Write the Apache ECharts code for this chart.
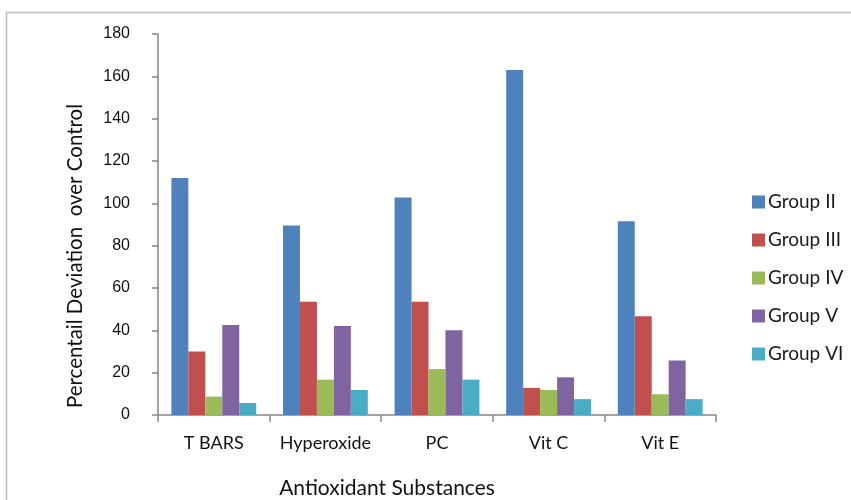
<!DOCTYPE html>
<html>
<head>
<meta charset="utf-8">
<script src="https://cdn.jsdelivr.net/npm/echarts@6/dist/echarts.min.js"></script>
<style>
  html, body { margin: 0; padding: 0; background: #fff; }
  #chart { width: 851px; height: 500px; }
</style>
</head>
<body>
<div id="chart"></div>
<script>
// Antioxidant substances measured per group (percent deviation over control)
const categories = ['T BARS', 'Hyperoxide', 'PC', 'Vit C', 'Vit E'];
const groupNames = ['Group II', 'Group III', 'Group IV', 'Group V', 'Group VI'];
const groupII  = [112, 89.5, 102.7, 163, 91.5];
const groupIII = [30, 53.5, 53.5, 12.8, 46.6];
const groupIV  = [8.7, 16.7, 21.7, 11.8, 9.8];
const groupV   = [42.5, 42, 40, 17.8, 25.8];
const groupVI  = [5.7, 11.8, 16.7, 7.5, 7.5];
const yTicks = [0, 20, 40, 60, 80, 100, 120, 140, 160, 180];

const colors = ['#4F81BD', '#C0504D', '#9BBB59', '#8064A2', '#4BACC6'];
const seriesData = [groupII, groupIII, groupIV, groupV, groupVI];
const axisColor = '#868686';
const font = 'Lato, "Open Sans", sans-serif';
const numFont = '"Liberation Sans Narrow", "Liberation Sans", Arial, sans-serif';

const chart = echarts.init(document.getElementById('chart'), null, { renderer: 'canvas' });

chart.setOption({
  animation: false,
  color: colors,
  grid: { left: 158, right: 135, top: 34, bottom: 85, containLabel: false },
  legend: {
    orient: 'vertical',
    left: 752,
    top: 192,
    padding: 0,
    itemWidth: 13,
    itemHeight: 13,
    itemGap: 18,
    icon: 'rect',
    textStyle: { fontFamily: font, fontSize: 19, lineHeight: 20, color: '#1a1a1a', padding: [0, 0, 0, -2] },
    data: groupNames
  },
  xAxis: {
    type: 'category',
    data: categories,
    axisLine: { lineStyle: { color: axisColor, width: 1.5 } },
    axisTick: { show: true, length: 7, interval: 0, alignWithLabel: false, lineStyle: { color: axisColor, width: 1.5 } },
    axisLabel: { interval: 0, hideOverlap: false, fontFamily: font, fontSize: 18, color: '#111', margin: 19 }
  },
  yAxis: {
    type: 'value',
    min: yTicks[0],
    max: yTicks[yTicks.length - 1],
    interval: yTicks[1] - yTicks[0],
    splitLine: { show: false },
    axisLine: { show: true, lineStyle: { color: axisColor, width: 1.5 } },
    axisTick: { show: true, length: 6, lineStyle: { color: axisColor, width: 1.5 } },
    axisLabel: { fontFamily: numFont, fontSize: 16, color: '#111', margin: 28 }
  },
  series: groupNames.map((name, i) => ({
    name: name,
    type: 'bar',
    data: seriesData[i],
    barGap: '0%',
    barCategoryGap: '24%',
    itemStyle: { color: colors[i] }
  })),
  graphic: [
    {
      type: 'rect',
      silent: true,
      shape: { x: 6.5, y: 12.5, width: 900, height: 600 },
      style: { fill: null, stroke: '#bdbdbd', lineWidth: 1.5 },
      z: -10
    },
    {
      type: 'text',
      x: 387, y: 488,
      style: {
        text: 'Antioxidant Substances',
        align: 'center', verticalAlign: 'middle',
        font: '21px ' + font, fill: '#111'
      }
    },
    {
      type: 'text',
      x: 75, y: 256,
      rotation: Math.PI / 2,
      style: {
        text: 'Percentail Deviation  over Control',
        align: 'center', verticalAlign: 'middle',
        font: '20.5px ' + font, fill: '#111'
      }
    }
  ]
});
</script>
</body>
</html>
